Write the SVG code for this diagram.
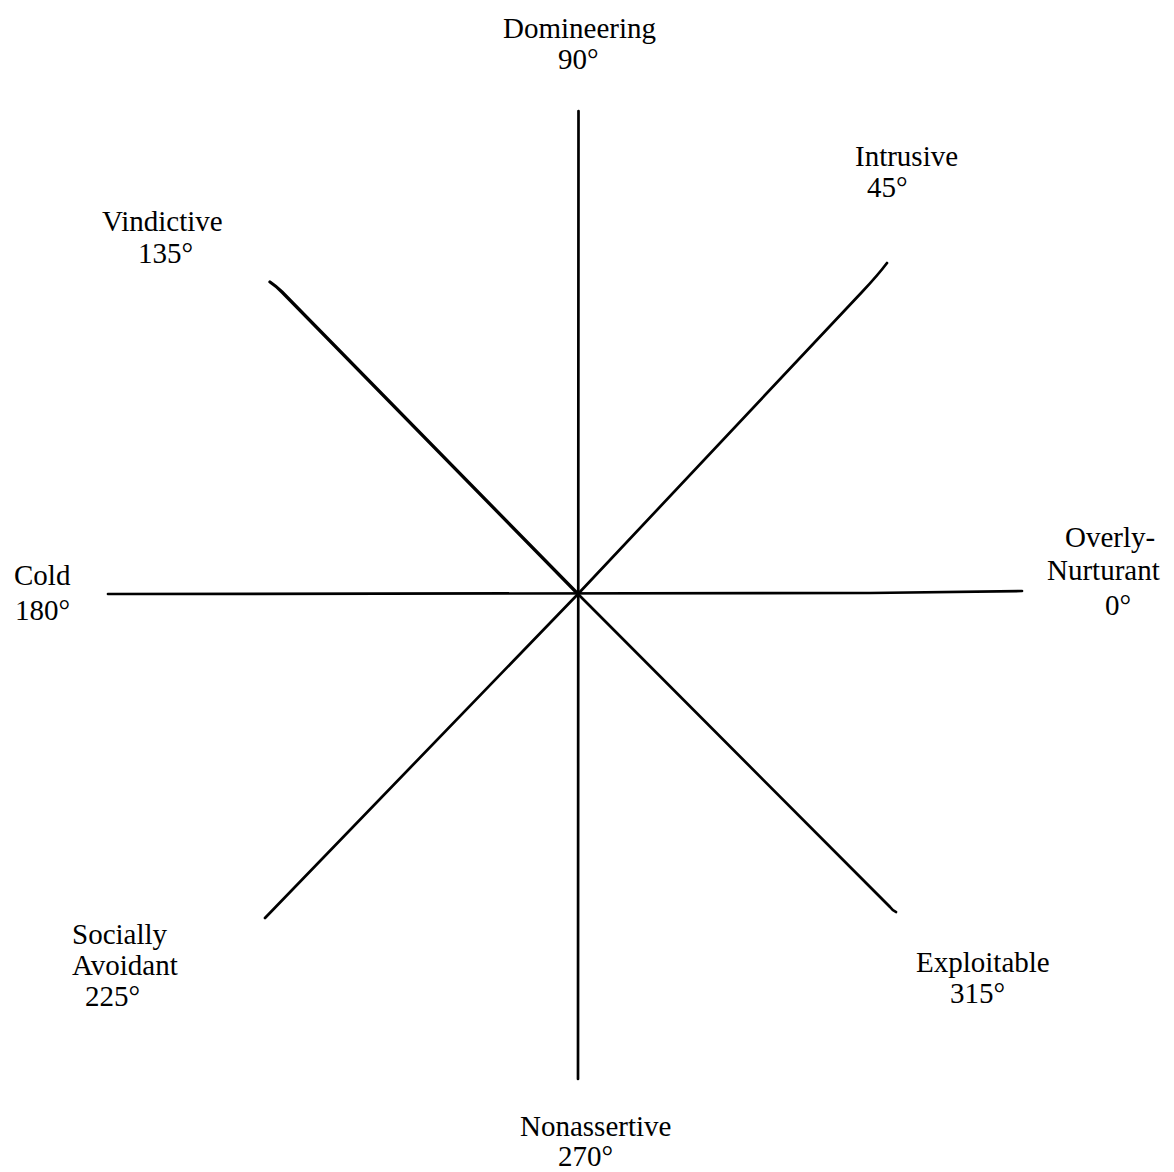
<svg xmlns="http://www.w3.org/2000/svg" width="1174" height="1172" viewBox="0 0 1174 1172">
<style>
.lbl{font-family:"Liberation Serif","Times New Roman",serif;font-size:29px;fill:#000}
.ax{stroke:#000;stroke-width:2.7;fill:none;stroke-linecap:round}
</style>
<rect width="1174" height="1172" fill="#fff"/>
<g id="connectors">
<path class="ax" d="M578.5 111 L578 1079"/>
<path class="ax" d="M108 594 L870 593 L1022 591"/>
<path class="ax" d="M578 594 L862 292 Q878 275 887 263"/>
<path class="ax" d="M270 282 Q276 286 282 292 L578 594" style="stroke-width:3.3"/>
<path class="ax" d="M265 918 L578 594"/>
<path class="ax" d="M578 594 L890 907 Q893 911 896 912"/>
</g>
<g id="domineering"><text class="lbl" x="503" y="38">Domineering</text><text class="lbl" x="558" y="69">90°</text></g>
<g id="intrusive"><text class="lbl" x="855" y="166">Intrusive</text><text class="lbl" x="867" y="197">45°</text></g>
<g id="vindictive"><text class="lbl" x="102" y="231">Vindictive</text><text class="lbl" x="138" y="263">135°</text></g>
<g id="cold"><text class="lbl" x="14" y="585">Cold</text><text class="lbl" x="15" y="620">180°</text></g>
<g id="overly-nurturant"><text class="lbl" x="1065" y="547">Overly-</text><text class="lbl" x="1047" y="580">Nurturant</text><text class="lbl" x="1105" y="615">0°</text></g>
<g id="socially-avoidant"><text class="lbl" x="72" y="944">Socially</text><text class="lbl" x="72" y="975">Avoidant</text><text class="lbl" x="85" y="1006">225°</text></g>
<g id="exploitable"><text class="lbl" x="916" y="972">Exploitable</text><text class="lbl" x="950" y="1003">315°</text></g>
<g id="nonassertive"><text class="lbl" x="520" y="1136">Nonassertive</text><text class="lbl" x="558" y="1166">270°</text></g>
</svg>
